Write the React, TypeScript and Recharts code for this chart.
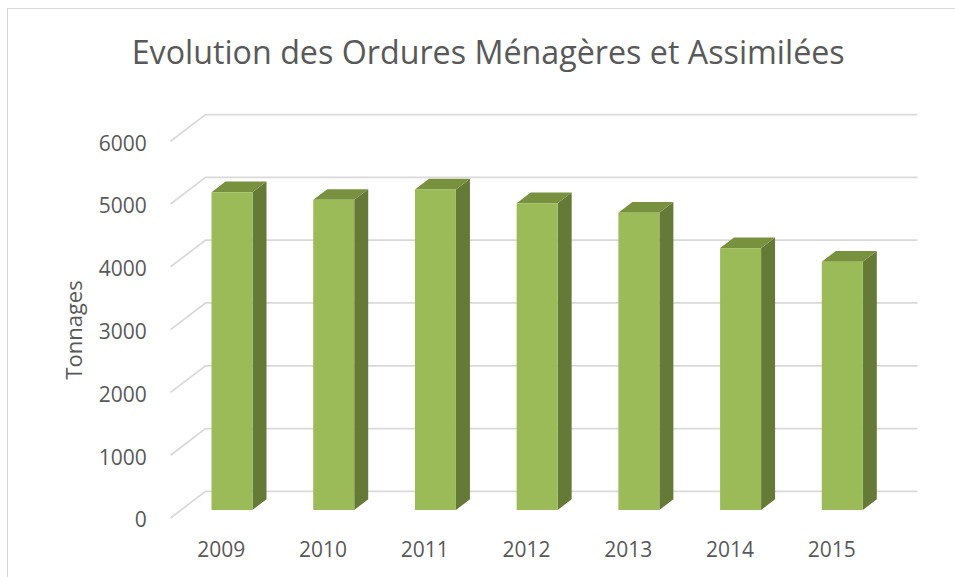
import React from 'react';
import { BarChart, Bar, XAxis, YAxis, CartesianGrid } from 'recharts';

const years = ['2009', '2010', '2011', '2012', '2013', '2014', '2015'];
const tonnages = [5060, 4940, 5105, 4885, 4735, 4170, 3955];
const yTicks = [0, 1000, 2000, 3000, 4000, 5000, 6000];
const chartTitle = 'Evolution des Ordures Ménagères et Assimilées';
const yAxisTitle = 'Tonnages';

const data = years.map((year, i) => ({ year, value: tonnages[i] }));

// 3D depth vector (full floor depth) and bar placement within depth
const DX = 35;
const DY = -26.6;
const FRONT = -0.3; // from bar-front plane to chart front plane
const BACK = 0.7; // from bar-front plane to back wall
const BAR_D = 0.4; // bar depth fraction

const FONT = '"Open Sans", "DejaVu Sans", sans-serif';
const TEXT = '#595959';
const GRID = '#D9D9D9';

const Bar3D = (props: any) => {
  const { x, y, width, height } = props;
  if (height == null || height <= 0) return null;
  const dx = DX * BAR_D;
  const dy = DY * BAR_D;
  const top = `${x},${y} ${x + width},${y} ${x + width + dx},${y + dy} ${x + dx},${y + dy}`;
  const side = `${x + width},${y} ${x + width + dx},${y + dy} ${x + width + dx},${y + height + dy} ${x + width},${y + height}`;
  return (
    <g>
      <polygon points={side} fill="#667A37" />
      <polygon points={top} fill="#77913E" />
      <rect x={x} y={y} width={width} height={height} fill="#9BBB59" />
    </g>
  );
};

const gridLine = (p: any) => {
  const { x1, x2, y1 } = p;
  const fx = x1 + DX * FRONT;
  const fy = y1 + DY * FRONT;
  const bx = x1 + DX * BACK;
  const by = y1 + DY * BACK;
  const ex = x2 + DX * BACK;
  return (
    <polyline
      key={`g-${y1}`}
      points={`${fx},${fy} ${bx},${by} ${ex},${by}`}
      fill="none"
      stroke={GRID}
      strokeWidth={1.75}
    />
  );
};

const XTick = (p: any) => {
  const { x, payload } = p;
  return (
    <text x={x + DX * FRONT} y={556.7} textAnchor="middle" fontFamily={FONT} fontSize={21} fill={TEXT}>
      {payload.value}
    </text>
  );
};

const YTick = (p: any) => {
  const { y, payload } = p;
  return (
    <text x={146.7} y={y + DY * FRONT + 9.5} textAnchor="end" fontFamily={FONT} fontSize={21} fill={TEXT}>
      {payload.value}
    </text>
  );
};

export default function App() {
  return (
    <div style={{ position: 'absolute', left: 0, top: 0, width: 955, height: 577, overflow: 'hidden', background: '#fff' }}>
      <style>{`body{margin:0}`}</style>
      <div
        style={{
          position: 'absolute',
          left: 7,
          top: 8,
          width: 1000,
          height: 700,
          border: '1.5px solid #D9D9D9',
          boxSizing: 'border-box',
        }}
      />
      <div style={{ position: 'absolute', left: 0, top: 0 }}>
        <BarChart
          width={955}
          height={577}
          data={data}
          margin={{ top: 133.2, right: 62, bottom: 0, left: 0 }}
          barCategoryGap="30%"
        >
          <CartesianGrid vertical={false} horizontal={gridLine} />
          <XAxis dataKey="year" axisLine={false} tickLine={false} height={67} tick={<XTick />} interval={0} />
          <YAxis
            width={181}
            domain={[0, 6000]}
            ticks={yTicks}
            axisLine={false}
            tickLine={false}
            tick={<YTick />}
            interval={0}
          />
          <Bar dataKey="value" isAnimationActive={false} shape={<Bar3D />} />
        </BarChart>
      </div>
      <svg width={955} height={577} style={{ position: 'absolute', left: 0, top: 0, pointerEvents: 'none' }}>
        <text
          x={131.7}
          y={64}
          fontFamily={FONT}
          fontSize={32}
          fill={TEXT}
          textLength={713}
          lengthAdjust="spacingAndGlyphs"
        >
          {chartTitle}
        </text>
        <text
          transform="translate(82,330) rotate(-90)"
          textAnchor="middle"
          fontFamily={FONT}
          fontSize={22}
          fill={TEXT}
        >
          {yAxisTitle}
        </text>
      </svg>
    </div>
  );
}
